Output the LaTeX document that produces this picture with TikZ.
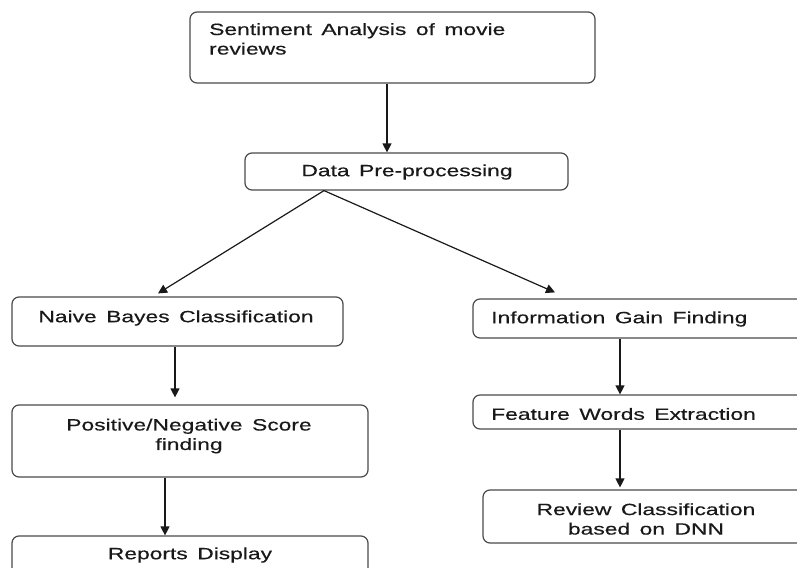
\documentclass[tikz,border=0pt]{standalone}
\usepackage{fontspec}
\setmainfont{Liberation Sans}[FakeStretch=1.4,WordSpace=1.5,FakeBold=0.4]
\usetikzlibrary{arrows.meta}
\definecolor{boxgray}{HTML}{4A4A4A}
\begin{document}
\begin{tikzpicture}[x=1pt,y=-1pt,
  box/.style={draw=boxgray, line width=1.2pt, rounded corners=7pt, inner sep=0pt},
  txt/.style={inner sep=0pt, font=\fontsize{16.3}{19.5}\selectfont, text=black!90},
  arr/.style={line width=1.2pt, draw=black!90, -{Triangle[length=9pt,width=9pt]}}]
\useasboundingbox (0,0) rectangle (797,567);
\clip (0,0) rectangle (797,567);
% boxes
\node[box, minimum width=405, minimum height=71] (A) at (392.5,47.5) {};
\node[box, minimum width=323, minimum height=37] (B) at (406.5,171.5) {};
\node[box, minimum width=331, minimum height=49] (C) at (177.5,321.5) {};
\node[box, minimum width=356, minimum height=72] (D) at (190,441) {};
\node[box, minimum width=356, minimum height=74] (E) at (190,573) {};
\node[box, minimum width=357, minimum height=39] (F) at (651.5,318.5) {};
\node[box, minimum width=357, minimum height=34] (G) at (651.5,412) {};
\node[box, minimum width=347, minimum height=53] (H) at (656.5,516.5) {};
% texts
\node[txt, anchor=north west, align=left] (tA) at (209,23) {Sentiment Analysis of movie\\reviews};
\node[txt] (tB) at (407,172) {Data Pre-processing};
\node[txt] (tC) at (176,318) {Naive Bayes Classification};
\node[txt, align=center] (tD) at (189,436) {Positive/Negative Score\\finding};
\node[txt] (tE) at (190,555) {Reports Display};
\node[txt, anchor=west] (tF) at (491,319) {Information Gain Finding};
\node[txt, anchor=west] (tG) at (491,414) {Feature Words Extraction};
\node[txt, align=center] (tH) at (646,519) {Review Classification\\based on DNN};
% connectors
\draw[arr] ([xshift=-5.5pt]A.south) -- ([xshift=-19.5pt]B.north);
\draw[arr] ([xshift=-82.5pt]B.south) -- ([xshift=-19.5pt,yshift=3pt]C.north);
\draw[arr] ([xshift=-82.5pt]B.south) -- ([xshift=-96.5pt,yshift=6pt]F.north);
\draw[arr] ([xshift=-2.5pt]C.south) -- ([xshift=-15pt,yshift=7pt]D.north);
\draw[arr] ([xshift=-25pt]D.south) -- ([xshift=-25pt]E.north);
\draw[arr] ([xshift=-31.5pt]F.south) -- ([xshift=-31.5pt]G.north);
\draw[arr] ([xshift=-31.5pt]G.south) -- ([xshift=-36.5pt,yshift=2pt]H.north);
\end{tikzpicture}
\end{document}
